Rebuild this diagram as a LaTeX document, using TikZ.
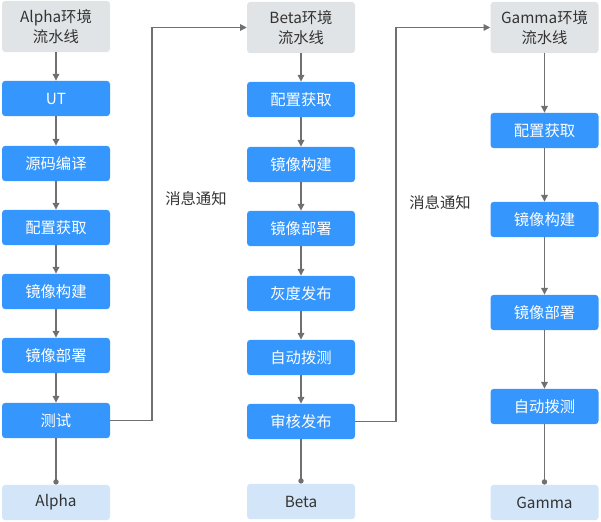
\documentclass[tikz,border=0pt]{standalone}
\usepackage{fontspec}
\setmainfont{Noto Sans CJK SC}
\usetikzlibrary{positioning,arrows.meta}
\definecolor{stageblue}{HTML}{3596FE}
\definecolor{headgray}{HTML}{E1E4E6}
\definecolor{tailblue}{HTML}{D3E5F8}
\definecolor{linegray}{HTML}{707070}
\definecolor{textdark}{HTML}{333333}
\tikzset{
  box/.style={rectangle,rounded corners=2.5pt,minimum width=81pt,inner sep=0pt,font=\fontsize{11.5}{15}\selectfont},
  stage/.style={box,fill=stageblue,text=white,minimum height=26.5pt},
  envhead/.style={box,fill=headgray,text=textdark,minimum height=38.5pt,align=center},
  envtail/.style={box,fill=tailblue,text=textdark,minimum height=26.5pt},
  flow/.style={draw=linegray,line width=0.8pt,-{Triangle[length=5pt,width=5pt]}},
  finish/.style={draw=linegray,line width=0.8pt,-{Circle[length=4pt]}},
  note/.style={text=textdark,font=\fontsize{11.5}{15}\selectfont}
}
\begin{document}
\begin{tikzpicture}[x=0.75pt,y=-0.75pt]
\useasboundingbox (0,0) rectangle (601,522);
% Alpha
\node[envhead] (ahead) at (56,26.5) {Alpha环境\\流水线};
\node[stage] (a1) at (56,98.5) {UT};
\node[stage] (a2) at (56,163.5) {源码编译};
\node[stage] (a3) at (56,227.5) {配置获取};
\node[stage] (a4) at (56,291.5) {镜像构建};
\node[stage] (a5) at (56,355.5) {镜像部署};
\node[stage] (a6) at (56,420.5) {测试};
\node[envtail] (atail) at (56,502.5) {Alpha};
% Beta
\node[envhead] (bhead) at (301,27.5) {Beta环境\\流水线};
\node[stage] (b1) at (301,99.5) {配置获取};
\node[stage] (b2) at (301,164.5) {镜像构建};
\node[stage] (b3) at (301,228.5) {镜像部署};
\node[stage] (b4) at (301,293.5) {灰度发布};
\node[stage] (b5) at (301,357.5) {自动拨测};
\node[stage] (b6) at (301,421.5) {审核发布};
\node[envtail] (btail) at (301,501.5) {Beta};
% Gamma
\node[envhead] (ghead) at (544.5,27.5) {Gamma环境\\流水线};
\node[stage] (g1) at (544.5,130.5) {配置获取};
\node[stage] (g2) at (544.5,219.5) {镜像构建};
\node[stage] (g3) at (544.5,312.5) {镜像部署};
\node[stage] (g4) at (544.5,406.5) {自动拨测};
\node[envtail] (gtail) at (544.5,502.5) {Gamma};
% connectors
\draw[flow] (ahead) -- (a1);
\draw[flow] (a1) -- (a2);
\draw[flow] (a2) -- (a3);
\draw[flow] (a3) -- (a4);
\draw[flow] (a4) -- (a5);
\draw[flow] (a5) -- (a6);
\draw[finish] (a6) -- (atail);
\draw[flow] (bhead) -- (b1);
\draw[flow] (b1) -- (b2);
\draw[flow] (b2) -- (b3);
\draw[flow] (b3) -- (b4);
\draw[flow] (b4) -- (b5);
\draw[flow] (b5) -- (b6);
\draw[finish] (b6) -- (btail);
\draw[flow] (ghead) -- (g1);
\draw[flow] (g1) -- (g2);
\draw[flow] (g2) -- (g3);
\draw[flow] (g3) -- (g4);
\draw[finish] (g4) -- (gtail);
% notifications
\coordinate (turnA) at (152,27.5);
\coordinate (turnB) at (396,27.5);
\draw[flow] (a6.east) -| (turnA) -- (bhead.west);
\draw[flow] (b6.east) -| (turnB) -- (ghead.west);
\node[note] (msgA) at (196,199) {消息通知};
\node[note] (msgB) at (440,203) {消息通知};
\end{tikzpicture}
\end{document}
